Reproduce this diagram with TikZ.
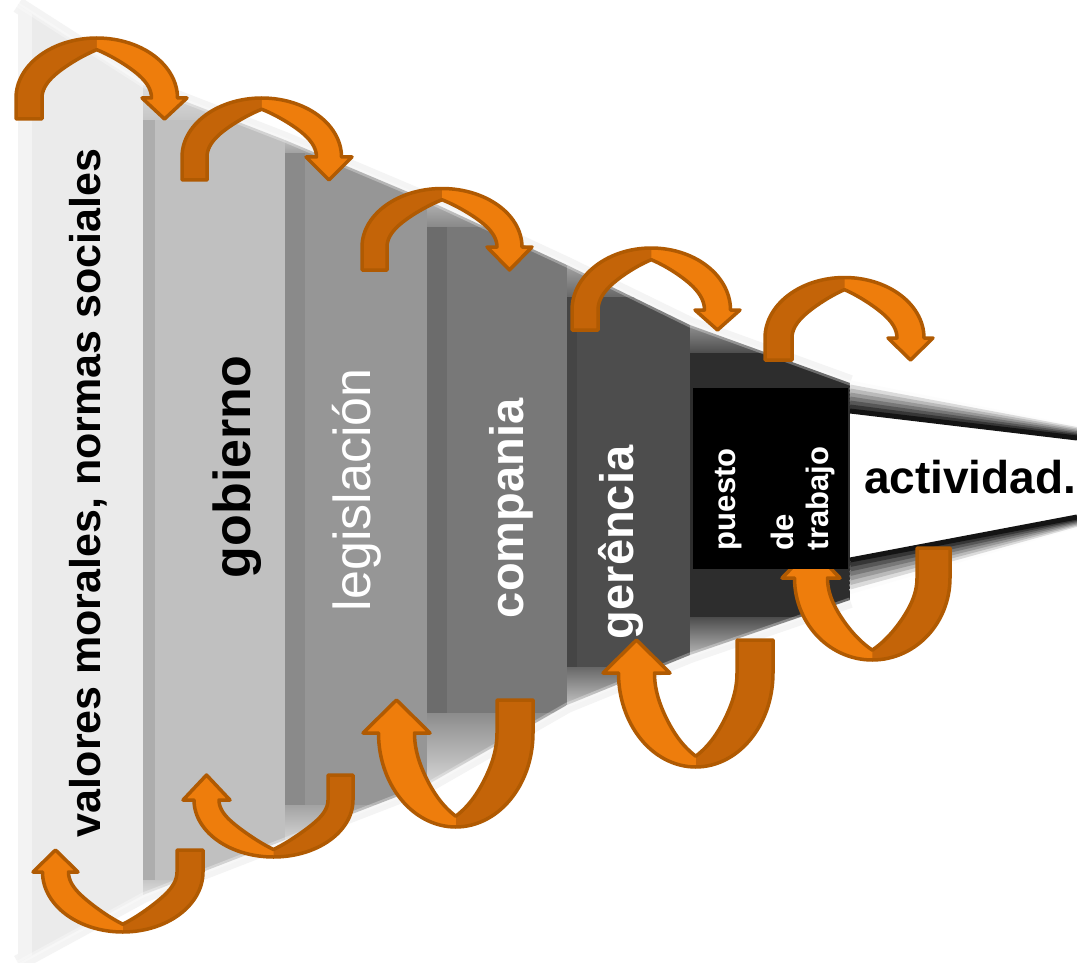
\documentclass[tikz,border=0pt]{standalone}
\usepackage{fontspec}
\setmainfont{Liberation Sans}
\usetikzlibrary{calc}
\definecolor{pA}{HTML}{EBEBEB}
\definecolor{pB}{HTML}{C0C0C0}
\definecolor{pC}{HTML}{969696}
\definecolor{pD}{HTML}{787878}
\definecolor{pE}{HTML}{4D4D4D}
\definecolor{pF}{HTML}{2D2D2D}
\definecolor{arrDark}{HTML}{C46408}
\definecolor{arrBright}{HTML}{EE7D0C}
\definecolor{arrLine}{HTML}{B05A02}
\tikzset{
  arrowline/.style={draw=arrLine, line width=3.5, line join=round},
  vtext/.style={rotate=90, anchor=base west, inner sep=0pt, outer sep=0pt},
  htext/.style={anchor=base west, inner sep=0pt, outer sep=0pt},
}
% bottom (U) arrow: #1 tail x, #2 head x, #3 head base y, #4 tip/tail y, #5 ry, #6 half width, #7 head half width
\newcommand\botarr[7]{%
\pgfmathsetmacro\aCX{(#1+#2)/2}%
\pgfmathsetmacro\aRX{(#1-#2)/2+#6}%
\pgfmathsetmacro\aRY{#5+#6}%
\pgfmathsetmacro\aW{2*#6}%
\fill[arrDark] ({#1+#6},#4) -- ({#1+#6},#3)
  -- plot[domain=0:180,samples=61,variable=\t] ({\aCX+\aRX*cos(\t)},{#3+\aRY*sin(\t)})
  -- ({#2-#7},#3) -- (#2,#4) -- ({#2+#7},#3) -- ({#2+#6},#3)
  -- plot[domain=180:0,samples=61,variable=\t] ({\aCX+(\aRX-\aW*bw(\t))*cos(\t)},{#3+(\aRY-\aW*bw(\t))*sin(\t)})
  -- ({#1-#6},#4) -- cycle;
\fill[arrBright] plot[domain=90:180,samples=31,variable=\t] ({\aCX+\aRX*cos(\t)},{#3+\aRY*sin(\t)})
  -- ({#2-#7},#3) -- (#2,#4) -- ({#2+#7},#3) -- ({#2+#6},#3)
  -- plot[domain=180:90,samples=31,variable=\t] ({\aCX+(\aRX-\aW*bw(\t))*cos(\t)},{#3+(\aRY-\aW*bw(\t))*sin(\t)})
  -- cycle;
\draw[arrowline] ({#1+#6},#4) -- ({#1+#6},#3)
  -- plot[domain=0:180,samples=61,variable=\t] ({\aCX+\aRX*cos(\t)},{#3+\aRY*sin(\t)})
  -- ({#2-#7},#3) -- (#2,#4) -- ({#2+#7},#3) -- ({#2+#6},#3)
  -- plot[domain=180:0,samples=61,variable=\t] ({\aCX+(\aRX-\aW*bw(\t))*cos(\t)},{#3+(\aRY-\aW*bw(\t))*sin(\t)})
  -- ({#1-#6},#4) -- cycle;
}
% top arrow: #1 tail x, #2 head x, #3 head base y, #4 tip/tail y, #5 ry, #6 half width, #7 head half width
\newcommand\toparr[7]{%
\pgfmathsetmacro\aCX{(#1+#2)/2}%
\pgfmathsetmacro\aRX{(#2-#1)/2+#6}%
\pgfmathsetmacro\aRY{#5+#6}%
\pgfmathsetmacro\aW{2*#6}%
\fill[arrDark] ({#1-#6},#4) -- ({#1-#6},#3)
  -- plot[domain=180:360,samples=61,variable=\t] ({\aCX+\aRX*cos(\t)},{#3+\aRY*sin(\t)})
  -- ({#2+#7},#3) -- (#2,#4) -- ({#2-#7},#3) -- ({#2-#6},#3)
  -- plot[domain=360:180,samples=61,variable=\t] ({\aCX+(\aRX-\aW*tw(\t))*cos(\t)},{#3+(\aRY-\aW*tw(\t))*sin(\t)})
  -- ({#1+#6},#4) -- cycle;
\fill[arrBright] plot[domain=270:360,samples=31,variable=\t] ({\aCX+\aRX*cos(\t)},{#3+\aRY*sin(\t)})
  -- ({#2+#7},#3) -- (#2,#4) -- ({#2-#7},#3) -- ({#2-#6},#3)
  -- plot[domain=360:270,samples=31,variable=\t] ({\aCX+(\aRX-\aW*tw(\t))*cos(\t)},{#3+(\aRY-\aW*tw(\t))*sin(\t)})
  -- cycle;
\draw[arrowline] ({#1-#6},#4) -- ({#1-#6},#3)
  -- plot[domain=180:360,samples=61,variable=\t] ({\aCX+\aRX*cos(\t)},{#3+\aRY*sin(\t)})
  -- ({#2+#7},#3) -- (#2,#4) -- ({#2-#7},#3) -- ({#2-#6},#3)
  -- plot[domain=360:180,samples=61,variable=\t] ({\aCX+(\aRX-\aW*tw(\t))*cos(\t)},{#3+(\aRY-\aW*tw(\t))*sin(\t)})
  -- ({#1+#6},#4) -- cycle;
}
\begin{document}
\begin{tikzpicture}[x=1pt,y=-1pt,
  declare function={bw(\u)=0.3+0.7*abs(cos(\u))*(2-abs(cos(\u))); tw(\u)=0.45+0.55*abs(cos(\u))*(2-abs(cos(\u)));}]
\useasboundingbox (0,0) rectangle (1077,963);
\fill[white] (0,0) rectangle (1077,963);
% soft haze outside the funnel
\draw[line width=16, gray!9, line join=round] (18,5) -- (143,85) -- (285,140) -- (427,200) -- (567,265) -- (690,325) -- (850,383);
\draw[line width=16, gray!9, line join=round] (18,963) -- (143,895) -- (285,840) -- (427,785) -- (567,705) -- (690,655) -- (850,600);
\begin{scope}
\clip (18,5) -- (143,85) -- (285,140) -- (427,200) -- (567,265) -- (690,325) -- (850,383) -- (850,600) -- (690,655) -- (567,705) -- (427,785) -- (285,840) -- (143,895) -- (18,963) -- cycle;
% panel 1
\fill[pA] (18,0) rectangle (143,963);
\fill[pA!60!white] (18,0) rectangle (32,963);
% top gaps
\shade[top color=pB!45!white, bottom color=pB!92!white] (143,78) rectangle (285,120);
\shade[top color=pC!45!white, bottom color=pC!90!white] (285,132) rectangle (427,153);
\shade[top color=pD!45!white, bottom color=pD!88!white] (427,192) rectangle (567,227);
\shade[top color=pE!45!white, bottom color=pE!85!white] (567,258) rectangle (690,297);
\shade[top color=pF!45!white, bottom color=pF!85!white] (690,318) rectangle (850,353);
% bottom gaps
\shade[top color=pB!90!white, bottom color=pB!35!white] (143,880) rectangle (285,902);
\shade[top color=pC!88!white, bottom color=pC!30!white] (285,805) rectangle (427,848);
\shade[top color=pD!85!white, bottom color=pD!25!white] (427,713) rectangle (567,792);
\shade[top color=pE!85!white, bottom color=pE!25!white] (567,667) rectangle (690,712);
\shade[top color=pF!85!white, bottom color=pF!25!white] (690,617) rectangle (850,662);
% panels
\fill[pB] (143,120) rectangle (285,880);
\fill[pB!90!black] (143,120) rectangle (155,880);
\fill[pC] (285,153) rectangle (427,805);
\fill[pC!92!black] (285,153) rectangle (305,805);
\fill[pD] (427,227) rectangle (567,713);
\fill[pD!90!black] (427,227) rectangle (447,713);
\fill[pE] (567,297) rectangle (690,667);
\fill[pE!90!black] (567,297) rectangle (577,667);
\fill[pF] (690,353) rectangle (850,617);
\end{scope}
% soften funnel edges
\draw[line width=5, white, opacity=.3, line join=round] (18,5) -- (143,85) -- (285,140) -- (427,200) -- (567,265) -- (690,325) -- (850,383);
\draw[line width=5, white, opacity=.3, line join=round] (18,963) -- (143,895) -- (285,840) -- (427,785) -- (567,705) -- (690,655) -- (850,600);
% tunnel bands on the right
\foreach \k in {7,6,...,0}{
  \pgfmathsetmacro\kc{max(0,92-13*\k)}
  \draw[line width=5, black!\kc] (850,{411-4*\k}) -- (1077,{438-1.4*\k});
  \draw[line width=5, black!\kc] (850,{560+4.5*\k}) -- (1077,{517+1.2*\k});
}
% arrows over the top
\toparr{29}{164.5}{98}{119}{47}{13}{22.5}
\toparr{194.5}{329}{157}{180}{46.5}{12.5}{23}
\toparr{374.5}{509.5}{247}{270}{46}{12.5}{22.5}
\toparr{585}{717.5}{310}{330}{49}{13}{22.5}
\toparr{778.5}{910.5}{338}{360}{47}{13.5}{22.5}
% arrows under the bottom
\botarr{190}{55.5}{872}{850}{47}{13}{22.5}
\botarr{340.5}{206.5}{800}{775}{44.5}{12.5}{23.5}
\botarr{515}{396.5}{733}{700}{76}{18}{33.5}
\botarr{755}{636.5}{673}{640}{76}{18}{33.5}
\botarr{933.5}{811}{578}{548}{65.5}{16.5}{29}
% black box
\fill[black] (693,388) rectangle (848,569);
% texts
\node[vtext, font=\bfseries\fontsize{43}{43}\selectfont] (tValores) at (100,837) {valores morales, normas sociales};
\node[vtext, font=\bfseries\fontsize{52}{52}\selectfont] (tGob) at (250,578) {gobierno};
\node[vtext, text=white, font=\fontsize{52}{52}\selectfont] (tLeg) at (370,611) {legislación};
\node[vtext, text=white, font=\bfseries\fontsize{47}{47}\selectfont] (tComp) at (523,618) {compania};
\node[vtext, text=white, font=\bfseries\fontsize{47}{47}\selectfont] (tGer) at (633,639) {gerência};
\node[vtext, text=white, font=\bfseries\fontsize{31}{31}\selectfont] (tPuesto) at (735,550) {puesto};
\node[vtext, text=white, font=\bfseries\fontsize{31}{31}\selectfont] (tDe) at (793,550) {de};
\node[vtext, text=white, font=\bfseries\fontsize{31}{31}\selectfont] (tTrab) at (828,550) {trabajo};
\node[htext, font=\bfseries\fontsize{46}{46}\selectfont] (tAct) at (864,493) {actividad.};
\end{tikzpicture}
\end{document}
